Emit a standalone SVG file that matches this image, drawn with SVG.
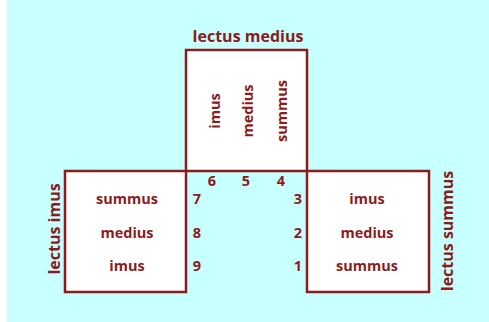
<svg xmlns="http://www.w3.org/2000/svg" width="489" height="322" viewBox="0 0 489 322">
<style>
.box{fill:#ffffff;stroke:#8b1c1c;stroke-width:2.5}
.t{font-family:"Open Sans","Liberation Sans",sans-serif;font-weight:bold;font-size:14.5px;fill:#8b1c1c;text-anchor:middle}
.h{font-size:16px}
</style>
<rect x="0" y="0" width="489" height="322" fill="#ffffff"/>
<rect x="7" y="0" width="482" height="322" fill="#c8ffff"/>
<g id="lectus-medius">
<rect class="box" x="186" y="50" width="121" height="121"/>
<text class="t h" x="248" y="42">lectus medius</text>
<text class="t" transform="translate(220,111) rotate(-90)">imus</text>
<text class="t" transform="translate(253,111) rotate(-90)">medius</text>
<text class="t" transform="translate(287,111) rotate(-90)">summus</text>
</g>
<g id="lectus-imus">
<rect class="box" x="65" y="171" width="121" height="121"/>
<text class="t h" transform="translate(60,229) rotate(-90)">lectus imus</text>
<text class="t" x="127" y="204">summus</text>
<text class="t" x="127" y="238">medius</text>
<text class="t" x="127" y="271">imus</text>
</g>
<g id="lectus-summus">
<rect class="box" x="307" y="171" width="122" height="121"/>
<text class="t h" transform="translate(453,231) rotate(-90)">lectus summus</text>
<text class="t" x="367" y="204">imus</text>
<text class="t" x="367" y="238">medius</text>
<text class="t" x="367" y="271">summus</text>
</g>
<g id="numbers">
<text class="t" x="298" y="271">1</text>
<text class="t" x="298" y="238">2</text>
<text class="t" x="298" y="204">3</text>
<text class="t" x="281" y="186">4</text>
<text class="t" x="246" y="186">5</text>
<text class="t" x="212" y="186">6</text>
<text class="t" x="197" y="204">7</text>
<text class="t" x="197" y="238">8</text>
<text class="t" x="197" y="271">9</text>
</g>
<g id="connectors"/>
</svg>
